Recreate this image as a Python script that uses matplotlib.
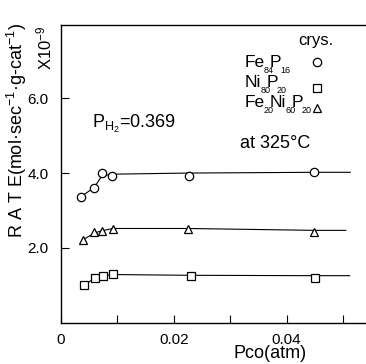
import matplotlib.pyplot as plt
from matplotlib.transforms import offset_copy

plt.rcParams['font.family'] = ['Liberation Sans', 'DejaVu Sans']
plt.rcParams['mathtext.fontset'] = 'custom'
plt.rcParams['mathtext.rm'] = 'Liberation Sans'
plt.rcParams['mathtext.it'] = 'Liberation Sans:italic'

# data (P_CO in atm, rate x 1e-9)
pco_fe = [0.00355, 0.0059, 0.0072, 0.0090, 0.0227, 0.0449]
rate_fe = [3.37, 3.61, 3.99, 3.93, 3.93, 4.03]
pco_feni = [0.0038, 0.0059, 0.0073, 0.0092, 0.0226, 0.0449]
rate_feni = [2.21, 2.43, 2.45, 2.50, 2.50, 2.43]
pco_ni = [0.0040, 0.0060, 0.0075, 0.0092, 0.0230, 0.0450]
rate_ni = [1.01, 1.19, 1.26, 1.30, 1.26, 1.21]

# hand-drawn guide lines
line_x_fe = [0.00355, 0.0059, 0.0072, 0.0090, 0.0227, 0.0449, 0.0513]
line_y_fe = [3.37, 3.62, 3.92, 3.97, 4.0, 4.02, 4.02]
line_x_feni = [0.0038, 0.0059, 0.0073, 0.0092, 0.0226, 0.0449, 0.0505]
line_y_feni = [2.21, 2.40, 2.46, 2.52, 2.52, 2.47, 2.47]
line_x_ni = [0.0040, 0.0060, 0.0075, 0.0092, 0.0230, 0.0450, 0.0512]
line_y_ni = [1.01, 1.19, 1.26, 1.29, 1.27, 1.26, 1.26]

xticks = [0, 0.01, 0.02, 0.03, 0.04, 0.05]
xticklabels = ['0', '', '0.02', '', '0.04', '']
yticks = [2, 4, 6]
yticklabels = ['2.0', '4.0', '6.0']

# legend entries: (element, subscript) pieces
formula_fe = [('Fe', '84'), ('P', '16')]
formula_ni = [('Ni', '80'), ('P', '20')]
formula_feni = [('Fe', '20'), ('Ni', '60'), ('P', '20')]

fig = plt.figure(figsize=(3.66, 3.64), dpi=100)
ax = fig.add_axes([0.167, 0.113, 0.833, 0.818])
renderer = fig.canvas.get_renderer()

lw = 0.8
ax.plot(line_x_fe, line_y_fe, color='black', lw=lw)
ax.plot(line_x_feni, line_y_feni, color='black', lw=lw)
ax.plot(line_x_ni, line_y_ni, color='black', lw=lw)

mk = dict(color='black', markerfacecolor='white', markersize=6, markeredgewidth=0.9,
          linestyle='none', zorder=3)
ax.plot(pco_fe, rate_fe, marker='o', **mk)
ax.plot(pco_feni, rate_feni, marker='^', **mk)
ax.plot(pco_ni, rate_ni, marker='s', **mk)

ax.set_xlim(0, 0.0541)
ax.set_ylim(0, 7.95)
ax.spines['right'].set_visible(False)
for s in ['left', 'bottom', 'top']:
    ax.spines[s].set_linewidth(1.0)

ax.set_xticks(xticks)
ax.set_xticklabels(xticklabels)
ax.set_yticks(yticks)
ax.set_yticklabels(yticklabels)
ax.tick_params(direction='in', length=6, width=0.8, labelsize=11, top=False, right=False)
ax.tick_params(axis='x', pad=7)
ax.tick_params(axis='y', pad=9)

fig.text(270 / 366, 1 - 353 / 364, 'Pco(atm)', fontsize=13, ha='center', va='center')
fig.text(17 / 366, 1 - 130 / 364, 'R A T E(mol·sec$^{-1}$·g-cat$^{-1}$)', rotation=90,
         fontsize=13, ha='center', va='center')
fig.text(44 / 366, 1 - 48 / 364, 'X10$^{-9}$', rotation=90, fontsize=12,
         ha='center', va='center')


def chem(x, y, parts, size=12.5, subsize=6.5):
    # draw a formula with small, low subscripts like the hand lettering
    dx = 0.0
    for elem, sub in parts:
        tr = offset_copy(ax.transData, fig=fig, x=dx, y=0, units='dots')
        t = ax.text(x, y, elem, fontsize=size, ha='left', va='baseline', transform=tr)
        dx += t.get_window_extent(renderer=renderer).width
        tr = offset_copy(ax.transData, fig=fig, x=dx - 1, y=1, units='dots')
        s = ax.text(x, y, sub, fontsize=subsize, ha='left', va='top', transform=tr)
        dx += 0.5 * s.get_window_extent(renderer=renderer).width


ax.text(0.0055, 5.30, 'P$_{\\rm H_2}$=0.369', fontsize=13, ha='left', va='center')
ax.text(0.0420, 7.55, 'crys.', fontsize=12, ha='left', va='center')
chem(0.0326, 6.83, formula_fe)
chem(0.0326, 6.30, formula_ni)
chem(0.0326, 5.76, formula_feni)
ax.plot([0.0454], [6.96], marker='o', **mk)
ax.plot([0.0454], [6.27], marker='s', **mk)
ax.plot([0.0454], [5.73], marker='^', **mk)
ax.text(0.0317, 4.80, 'at 325°C', fontsize=13, ha='left', va='center')

fig.savefig('out.png', dpi=100)
